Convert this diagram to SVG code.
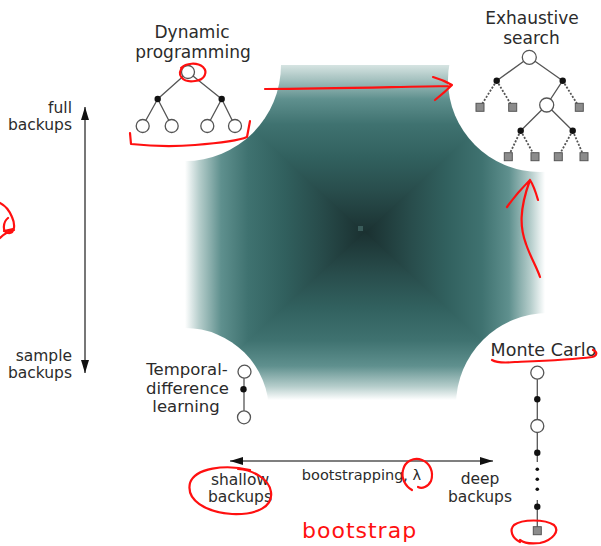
<svg xmlns="http://www.w3.org/2000/svg" width="601" height="546" viewBox="0 0 601 546">
<defs>
<style>
.lbl{font-family:"DejaVu Sans","Liberation Sans",sans-serif;font-size:17px;fill:#2b2b2b;text-anchor:middle}
.ax{font-family:"DejaVu Sans","Liberation Sans",sans-serif;font-size:15.5px;fill:#2b2b2b}
.e{stroke:#555;stroke-width:1.3;fill:none}
.d{stroke:#555;stroke-width:1.8;stroke-dasharray:2 1.6;fill:none}
.o{fill:#fff;stroke:#555;stroke-width:1.3}
.b{fill:#111}
.sq{fill:#8c8c8c;stroke:#555;stroke-width:1}
.axl{stroke:#555;stroke-width:1.6;fill:none}
.red{stroke:#ff1010;stroke-width:2.2;fill:none;stroke-linecap:round;stroke-linejoin:round}
</style>
<linearGradient id="gT" x1="0" y1="0" x2="0" y2="1">
<stop offset="0" stop-color="#d6e4e2"/><stop offset="0.08" stop-color="#a9c4c2"/><stop offset="0.2" stop-color="#5f908e"/><stop offset="0.35" stop-color="#3f7270"/><stop offset="0.55" stop-color="#31605e"/><stop offset="0.75" stop-color="#284c4b"/><stop offset="1" stop-color="#1a3030"/>
</linearGradient>
<linearGradient id="gB" x1="0" y1="1" x2="0" y2="0">
<stop offset="0" stop-color="#ffffff"/><stop offset="0.08" stop-color="#b5cdcb"/><stop offset="0.2" stop-color="#5f908e"/><stop offset="0.35" stop-color="#3f7270"/><stop offset="0.55" stop-color="#31605e"/><stop offset="0.75" stop-color="#284c4b"/><stop offset="1" stop-color="#1a3030"/>
</linearGradient>
<linearGradient id="gL" x1="0" y1="0" x2="1" y2="0">
<stop offset="0" stop-color="#ffffff"/><stop offset="0.08" stop-color="#b5cdcb"/><stop offset="0.2" stop-color="#5f908e"/><stop offset="0.35" stop-color="#3f7270"/><stop offset="0.55" stop-color="#31605e"/><stop offset="0.75" stop-color="#284c4b"/><stop offset="1" stop-color="#1a3030"/>
</linearGradient>
<linearGradient id="gR" x1="1" y1="0" x2="0" y2="0">
<stop offset="0" stop-color="#ffffff"/><stop offset="0.08" stop-color="#b5cdcb"/><stop offset="0.2" stop-color="#5f908e"/><stop offset="0.35" stop-color="#3f7270"/><stop offset="0.55" stop-color="#31605e"/><stop offset="0.75" stop-color="#284c4b"/><stop offset="1" stop-color="#1a3030"/>
</linearGradient>
<marker id="ah" viewBox="0 0 13 8" refX="13" refY="4" markerWidth="13" markerHeight="8" markerUnits="userSpaceOnUse" orient="auto-start-reverse">
<path d="M0,0 L13,4 L0,8 z" fill="#111"/>
</marker>
</defs>
<rect width="601" height="546" fill="#fff"/>
<g id="background">
<polygon points="183,65 547,65 365,235" fill="url(#gT)"/>
<polygon points="183,400 547,400 365,230" fill="url(#gB)"/>
<polygon points="185,65 185,400 365,232.5" fill="url(#gL)"/>
<polygon points="545,65 545,400 365,232.5" fill="url(#gR)"/>
<rect x="358" y="226" width="5" height="5" fill="#3a5c5a"/>
<circle cx="185" cy="65" r="96" fill="#fff"/>
<circle cx="540" cy="80" r="92" fill="#fff"/>
<circle cx="185" cy="412" r="84" fill="#fff"/>
<circle cx="548" cy="405" r="92" fill="#fff"/>
</g>
<g id="node-dp">
<text class="lbl" x="192" y="38">Dynamic</text>
<text class="lbl" x="193" y="58">programming</text>
<path class="e" d="M188,72 L157.7,99 M188,72 L221.7,99 M157.7,99 L142.7,126 M157.7,99 L171.7,126 M221.7,99 L207.3,126 M221.7,99 L235,126"/>
<circle class="o" cx="188" cy="72" r="6.5"/>
<circle class="b" cx="157.7" cy="99" r="3.2"/>
<circle class="b" cx="221.7" cy="99" r="3.2"/>
<circle class="o" cx="142.7" cy="126" r="6.5"/>
<circle class="o" cx="171.7" cy="126" r="6.5"/>
<circle class="o" cx="207.3" cy="126" r="6.5"/>
<circle class="o" cx="235" cy="126" r="6.5"/>
</g>
<g id="node-es">
<text class="lbl" x="532" y="24">Exhaustive</text>
<text class="lbl" x="531.5" y="44">search</text>
<path class="e" d="M529.3,57.3 L496.7,80.7 M529.3,57.3 L562.7,80.7 M562.7,80.7 L546.7,105 M546.7,105 L520.7,130.7 M546.7,105 L572.7,130.7"/>
<path class="d" d="M496.7,80.7 L480,107.3 M496.7,80.7 L512.7,107.3 M562.7,80.7 L579.3,107.3 M520.7,130.7 L508.3,156.7 M520.7,130.7 L535,156.7 M572.7,130.7 L558.3,156.7 M572.7,130.7 L584,156.7"/>
<circle class="o" cx="529.3" cy="57.3" r="7"/>
<circle class="b" cx="496.7" cy="80.7" r="3.2"/>
<circle class="b" cx="562.7" cy="80.7" r="3.2"/>
<rect class="sq" x="476" y="103.3" width="8" height="8"/>
<rect class="sq" x="508.7" y="103.3" width="8" height="8"/>
<circle class="o" cx="546.7" cy="105" r="7"/>
<rect class="sq" x="575.3" y="103.3" width="8" height="8"/>
<circle class="b" cx="520.7" cy="130.7" r="3.2"/>
<circle class="b" cx="572.7" cy="130.7" r="3.2"/>
<rect class="sq" x="504.3" y="152.7" width="8" height="8"/>
<rect class="sq" x="531" y="152.7" width="8" height="8"/>
<rect class="sq" x="554.3" y="152.7" width="8" height="8"/>
<rect class="sq" x="580" y="152.7" width="8" height="8"/>
</g>
<g id="node-td">
<text class="lbl" x="187" y="375" style="font-size:16.5px">Temporal-</text>
<text class="lbl" x="187.5" y="393.5" style="font-size:16.5px">difference</text>
<text class="lbl" x="186" y="412" style="font-size:16.5px">learning</text>
<path class="e" d="M244,372 L244,417"/>
<circle class="o" cx="244.5" cy="371.7" r="6.5"/>
<circle class="b" cx="243.5" cy="389.3" r="3.2"/>
<circle class="o" cx="244" cy="417.3" r="6.5"/>
</g>
<g id="node-mc">
<text class="lbl" x="543.5" y="356" style="font-size:17.5px">Monte Carlo</text>
<path class="e" d="M537.3,373 L537.3,462 M537.3,500 L537.3,530"/>
<circle class="o" cx="537.3" cy="372.7" r="6.5"/>
<circle class="b" cx="537.3" cy="399.3" r="3.2"/>
<circle class="o" cx="537.3" cy="426" r="6.5"/>
<circle class="b" cx="537.3" cy="452.7" r="3.2"/>
<circle class="b" cx="537.3" cy="469.3" r="1.8"/>
<circle class="b" cx="537.3" cy="479.3" r="1.8"/>
<circle class="b" cx="537.3" cy="489.3" r="1.8"/>
<circle class="b" cx="537.3" cy="506.7" r="3.2"/>
<rect class="sq" x="533.3" y="526.7" width="8" height="8"/>
</g>
<g id="connectors">
<line class="axl" x1="85" y1="107" x2="85" y2="373" marker-start="url(#ah)" marker-end="url(#ah)"/>
<line class="axl" x1="230" y1="461" x2="493" y2="461" marker-start="url(#ah)" marker-end="url(#ah)"/>
</g>
<g id="axis-labels">
<text class="ax" x="72" y="113" text-anchor="end">full</text>
<text class="ax" x="72" y="130" text-anchor="end">backups</text>
<text class="ax" x="72" y="361" text-anchor="end">sample</text>
<text class="ax" x="72" y="378" text-anchor="end">backups</text>
<text class="ax" x="240" y="485" text-anchor="middle">shallow</text>
<text class="ax" x="240" y="502" text-anchor="middle">backups</text>
<text class="ax" x="361.5" y="480" text-anchor="middle" style="font-size:14.5px">bootstrapping, λ</text>
<text class="ax" x="480" y="484" text-anchor="middle">deep</text>
<text class="ax" x="480" y="502" text-anchor="middle">backups</text>
</g>
<g id="annotations">
<path class="red" d="M183,67 C176,74 182,83 195,81 C205,80 208,72 203,67 C197,62 186,63 181,68"/>
<path class="red" d="M130,133 L131,144 C150,146 170,147 195,145 C220,143 240,140 247,137 L250,121"/>
<path class="red" d="M265,89 C330,89 390,87 450,86 M433,77 C440,79 447,82 452,85 C446,91 440,96 435,100"/>
<path class="red" d="M540,277 C537,268 530,256 526,244 C520,228 519,210 530,180 M507,207 C514,197 522,188 530,180 C534,186 536,193 538,200"/>
<path class="red" d="M0,203 C6,206 10,212 12,217 C16,226 14,234 8,233 C2,232 3,222 8,218 M0,238 C4,234 9,231 14,230 M4,231 L13,229"/>
<path class="red" d="M492,360 C497,363 505,363 515,362 C540,361 570,360 592,357 C597,356 598,352 593,350"/>
<path class="red" d="M412,490 C405,486 401,478 403,470 C405,461 414,457 422,460 C430,463 434,472 431,481 C428,487 422,489 418,487"/>
<path class="red" d="M250,470 C225,464 195,468 190,483 C186,500 205,512 232,514 C258,515 273,506 271,492 C269,478 252,470 238,469"/>
<path class="red" d="M520,542 C512,538 509,530 514,525 C522,519 545,519 554,525 C560,531 553,540 540,543 C532,544 524,543 520,540"/>
<text x="302" y="538" style="font-family:'DejaVu Sans',sans-serif;font-size:22px;letter-spacing:1px;fill:#ff1010">bootstrap</text>
</g>
</svg>
